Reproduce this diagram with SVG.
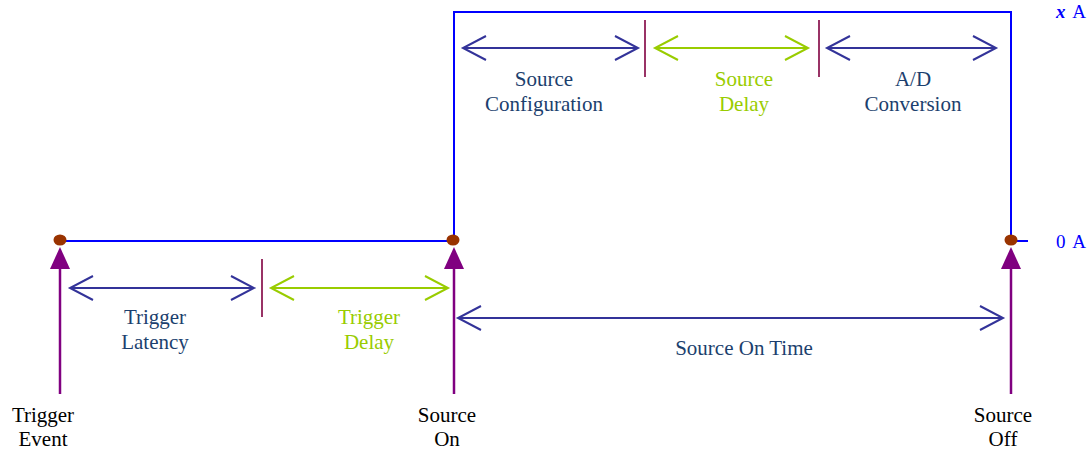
<svg xmlns="http://www.w3.org/2000/svg" width="1091" height="449" viewBox="0 0 1091 449">
<style>
text{text-anchor:middle}
.lab{fill:#1c3f6e}
.grn{fill:#99cc00}
.blk{fill:#000}
.amp{fill:#0000ff;text-anchor:start}
.dim{fill:none;stroke:#333399;stroke-width:2}
.dimg{fill:none;stroke:#99cc00;stroke-width:2}
.sep{stroke:#993366;stroke-width:2}
.wave{fill:none;stroke:#0000ff;stroke-width:2}
.ev{stroke:#800080;stroke-width:2.5}
.evh{fill:#800080}
.dot{fill:#993300}
</style>
<g id="connectors">
<polyline class="wave" points="60,241 454,241 454,12 1011,12 1011,241 1028,241"/>
<g id="dim-trigger-latency"><path class="dim" d="M70,288H254M93,276L70,288L93,300M231,276L254,288L231,300"/></g>
<line class="sep" x1="262" y1="259" x2="262" y2="317"/>
<g id="dim-trigger-delay"><path class="dimg" d="M271,288H448M294,276L271,288L294,300M425,276L448,288L425,300"/></g>
<g id="dim-source-on-time"><path class="dim" d="M458,318H1003M481,306L458,318L481,330M980,306L1003,318L980,330"/></g>
<g id="dim-source-config"><path class="dim" d="M463,48H638M486,36L463,48L486,60M615,36L638,48L615,60"/></g>
<line class="sep" x1="645" y1="20" x2="645" y2="77"/>
<g id="dim-source-delay"><path class="dimg" d="M655,48H808M678,36L655,48L678,60M785,36L808,48L785,60"/></g>
<line class="sep" x1="819" y1="20" x2="819" y2="77"/>
<g id="dim-ad"><path class="dim" d="M827,48H996M850,36L827,48L850,60M973,36L996,48L973,60"/></g>
</g>
<g font-family="Liberation Serif, Times New Roman, serif" font-size="21">
<g id="trigger-event">
<line class="ev" x1="60" y1="394" x2="60" y2="266"/>
<polygon class="evh" points="60,247 70,269 50,269"/>
<ellipse class="dot" cx="60" cy="240" rx="6.5" ry="5.5"/>
<text class="blk" x="43" y="422">Trigger</text>
<text class="blk" x="43" y="446">Event</text>
</g>
<g id="source-on">
<line class="ev" x1="454" y1="394" x2="454" y2="266"/>
<polygon class="evh" points="454,247 464,269 444,269"/>
<ellipse class="dot" cx="453" cy="240" rx="6.5" ry="5.5"/>
<text class="blk" x="447" y="422">Source</text>
<text class="blk" x="447" y="446">On</text>
</g>
<g id="source-off">
<line class="ev" x1="1011" y1="394" x2="1011" y2="266"/>
<polygon class="evh" points="1011,247 1021,269 1001,269"/>
<ellipse class="dot" cx="1011" cy="240" rx="6.5" ry="5.5"/>
<text class="blk" x="1003" y="422">Source</text>
<text class="blk" x="1003" y="446">Off</text>
</g>
<g id="labels">
<text class="lab" x="155" y="324">Trigger</text>
<text class="lab" x="155" y="349">Latency</text>
<text class="grn" x="369" y="324">Trigger</text>
<text class="grn" x="369" y="349">Delay</text>
<text class="lab" x="744" y="355">Source On Time</text>
<text class="lab" x="544" y="86">Source</text>
<text class="lab" x="544" y="111">Configuration</text>
<text class="grn" x="744" y="86">Source</text>
<text class="grn" x="744" y="111">Delay</text>
<text class="lab" x="913" y="86">A/D</text>
<text class="lab" x="913" y="111">Conversion</text>
<text class="amp" x="1056" y="18" font-size="19" word-spacing="3"><tspan font-weight="bold" font-style="italic">x</tspan> A</text>
<text class="amp" x="1056" y="248" font-size="19" word-spacing="3">0 A</text>
</g>
</g>
</svg>
